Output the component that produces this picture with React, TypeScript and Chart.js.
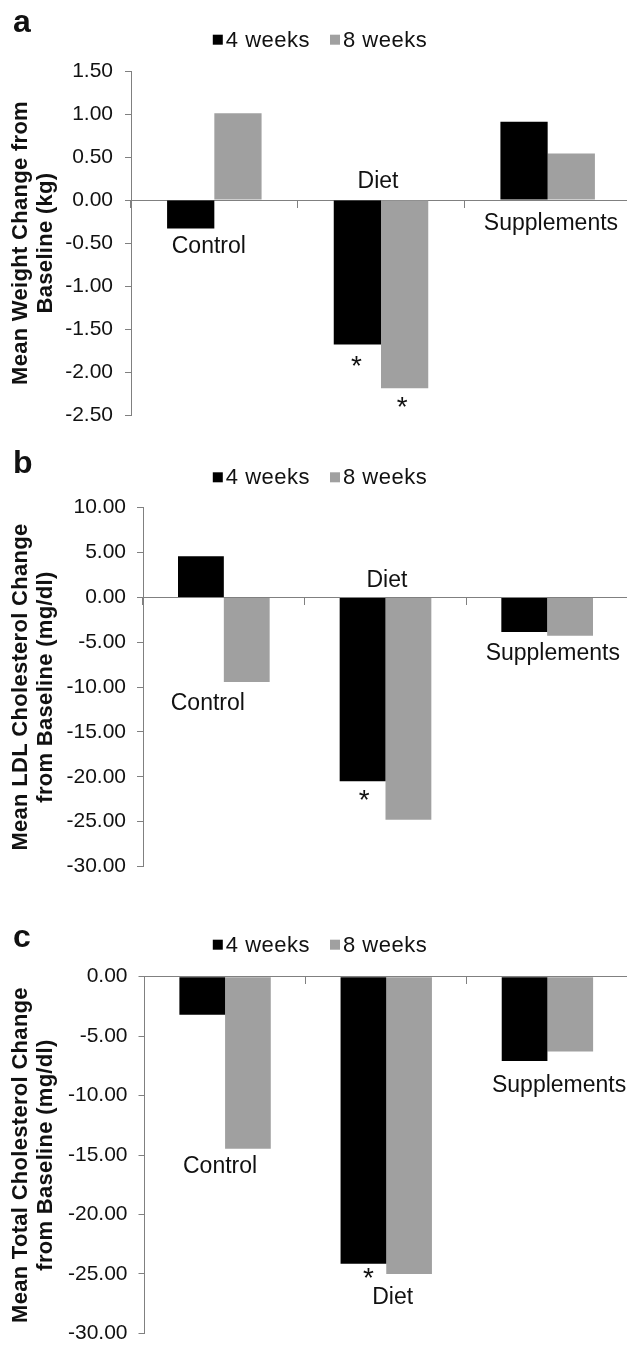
import React, { useEffect, useRef } from 'react';
import { Chart, registerables } from 'chart.js';

Chart.register(...registerables);

// ---------- data ----------
const categories = ['Control', 'Diet', 'Supplements'];
const seriesNames = ['4 weeks', '8 weeks'];

const weightWeek4 = [-0.33, -1.68, 0.91];
const weightWeek8 = [1.01, -2.19, 0.54];
const ldlWeek4 = [4.58, -20.5, -3.86];
const ldlWeek8 = [-9.43, -24.8, -4.29];
const totalWeek4 = [-3.19, -24.14, -7.08];
const totalWeek8 = [-14.46, -25.0, -6.29];

// axis ranges: [min, max, step]
const weightAxis = [-2.5, 1.5, 0.5];
const ldlAxis = [-30, 10, 5];
const totalAxis = [-30, 0, 5];

const weightTitle = ['Mean Weight Change from', 'Baseline (kg)'];
const ldlTitle = ['Mean LDL Cholesterol Change', 'from Baseline (mg/dl)'];
const totalTitle = ['Mean Total Cholesterol Change', 'from Baseline (mg/dl)'];

// significance marks: [category index, series index]
const weightStars = [[1, 0], [1, 1]];
const ldlStars = [[1, 0]];
const totalStars = [[1, 0]];

// ---------- styles / layout ----------
const FONT = '"Liberation Sans", Arial, Helvetica, sans-serif';
const AXIS = '#808080';
const TEXT = '#111111';
const COLORS = ['#000000', '#a0a0a0'];
const CANVAS_W = 640;

const panels = [
  {
    letter: 'a', s4: weightWeek4, s8: weightWeek8, axis: weightAxis, title: weightTitle, stars: weightStars,
    top: 0, height: 440, area: { left: 131, right: 631, top: 71, bottom: 415 }, tickPad: 12,
    letterBase: 31.7, legendBase: 46.7,
    labelPos: [{ v: -0.54, dx: -5.5 }, { v: 0.213, dx: -3 }, { v: -0.27, dx: 3.3 }],
    starOff: [[-1, 17], [-2.5, 14]],
  },
  {
    letter: 'b', s4: ldlWeek4, s8: ldlWeek8, axis: ldlAxis, title: ldlTitle, stars: ldlStars,
    top: 440, height: 450, area: { left: 143, right: 628, top: 67.7, bottom: 440.7 }, tickPad: 11,
    letterBase: 33, legendBase: 44.3,
    labelPos: [{ v: -11.8, dx: -16 }, { v: 1.9, dx: 1.4 }, { v: -6.32, dx: 5.6 }],
    starOff: [[1.5, 14]],
  },
  {
    letter: 'c', s4: totalWeek4, s8: totalWeek8, axis: totalAxis, title: totalTitle, stars: totalStars,
    top: 890, height: 467, area: { left: 144.5, right: 628, top: 86.7, bottom: 456.7 }, tickPad: 11,
    letterBase: 56.7, legendBase: 61.7,
    labelPos: [{ v: -15.94, dx: -5 }, { v: -27.0, dx: 6.4 }, { v: -9.13, dx: 11.7 }],
    starOff: [[5, 9]],
  },
];

function makeDecorPlugin(cfg: any) {
  return {
    id: 'decor',
    afterDraw(chart: any) {
      const ctx = chart.ctx as CanvasRenderingContext2D;
      const xs = chart.scales.x;
      const ys = chart.scales.y;
      const area = chart.chartArea;
      ctx.save();
      ctx.fillStyle = TEXT;

      // panel letter
      ctx.font = `bold 32px ${FONT}`;
      ctx.textAlign = 'left';
      ctx.textBaseline = 'alphabetic';
      (ctx as any).letterSpacing = '0px';
      ctx.fillText(cfg.letter, 13, cfg.letterBase);

      // legend
      ctx.font = `22px ${FONT}`;
      (ctx as any).letterSpacing = '0.5px';
      const widths = chart.data.datasets.map((d: any) => ctx.measureText(d.label).width);
      const box = 10, gapBox = 3, gapItem = 20;
      const total = widths.reduce((s: number, w: number) => s + box + gapBox + w, 0) + gapItem * (widths.length - 1);
      let x = 320 - total / 2;
      chart.data.datasets.forEach((d: any, i: number) => {
        ctx.fillStyle = d.backgroundColor;
        ctx.fillRect(x, cfg.legendBase - 12, box, box);
        ctx.fillStyle = TEXT;
        ctx.fillText(d.label, x + box + gapBox, cfg.legendBase);
        x += box + gapBox + widths[i] + gapItem;
      });

      // y-axis title (rotated)
      ctx.font = `bold 22px ${FONT}`;
      (ctx as any).letterSpacing = '0.3px';
      ctx.textAlign = 'center';
      ctx.textBaseline = 'middle';
      const cy = (area.top + area.bottom) / 2;
      const lineX = [21, 46];
      cfg.title.forEach((line: string, i: number) => {
        ctx.save();
        ctx.translate(lineX[i], cy);
        ctx.rotate(-Math.PI / 2);
        ctx.fillText(line, 0, 0);
        ctx.restore();
      });

      // category labels
      ctx.font = `23px ${FONT}`;
      (ctx as any).letterSpacing = '0px';
      ctx.textAlign = 'center';
      ctx.textBaseline = 'middle';
      chart.data.labels.forEach((lab: string, i: number) => {
        const p = cfg.labelPos[i];
        ctx.fillText(lab, xs.getPixelForValue(i) + p.dx, ys.getPixelForValue(p.v));
      });

      // significance asterisks
      ctx.font = `28px ${FONT}`;
      ctx.textAlign = 'center';
      ctx.textBaseline = 'alphabetic';
      const m = ctx.measureText('*');
      cfg.stars.forEach((st: number[], k: number) => {
        const el = chart.getDatasetMeta(st[1]).data[st[0]] as any;
        const off = cfg.starOff[k];
        const end = Math.max(el.y, el.base);
        const sx = el.x + off[0];
        const syc = end + off[1];
        const base = syc + (m.actualBoundingBoxAscent - m.actualBoundingBoxDescent) / 2;
        ctx.fillText('*', sx, base);
      });

      ctx.restore();
    },
  };
}

function Panel({ cfg }: { cfg: any }) {
  const ref = useRef<HTMLCanvasElement>(null);
  useEffect(() => {
    const canvas = ref.current!;
    const [min, max, step] = cfg.axis;
    const chart = new Chart(canvas, {
      type: 'bar',
      data: {
        labels: categories,
        datasets: [
          { label: seriesNames[0], data: cfg.s4, backgroundColor: COLORS[0], borderWidth: 0, categoryPercentage: 0.567, barPercentage: 1 },
          { label: seriesNames[1], data: cfg.s8, backgroundColor: COLORS[1], borderWidth: 0, categoryPercentage: 0.567, barPercentage: 1 },
        ],
      },
      options: {
        responsive: false,
        animation: false,
        devicePixelRatio: 1,
        layout: {
          padding: {
            left: 0,
            top: cfg.area.top,
            right: CANVAS_W - cfg.area.right,
            bottom: cfg.height - cfg.area.bottom,
          },
        },
        plugins: {
          legend: { display: false },
          tooltip: { enabled: false },
          title: { display: false },
        },
        scales: {
          x: {
            type: 'category',
            position: { y: 0 },
            offset: true,
            grid: { offset: true, drawOnChartArea: false, drawTicks: true, tickLength: 7, color: AXIS, lineWidth: 1 },
            border: { display: true, color: AXIS, width: 1 },
            ticks: { display: false },
          },
          y: {
            type: 'linear',
            min,
            max,
            afterFit: (s: any) => { s.width = cfg.area.left; },
            ticks: {
              stepSize: step,
              padding: cfg.tickPad,
              color: TEXT,
              font: { family: FONT, size: 21 },
              callback: (v: any) => Number(v).toFixed(2),
            },
            grid: { drawOnChartArea: false, drawTicks: true, tickLength: 6, color: AXIS, lineWidth: 1 },
            border: { display: true, color: AXIS, width: 1 },
          },
        },
      } as any,
      plugins: [makeDecorPlugin(cfg)],
    });
    return () => chart.destroy();
  }, [cfg]);
  return (
    <canvas
      ref={ref}
      width={CANVAS_W}
      height={cfg.height}
      style={{ position: 'absolute', left: 0, top: cfg.top, width: CANVAS_W, height: cfg.height }}
    />
  );
}

export default function App() {
  return (
    <div style={{ position: 'absolute', left: 0, top: 0, width: 627, height: 1357, overflow: 'hidden', background: '#ffffff' }}>
      {panels.map((p) => (
        <Panel key={p.letter} cfg={p} />
      ))}
    </div>
  );
}
